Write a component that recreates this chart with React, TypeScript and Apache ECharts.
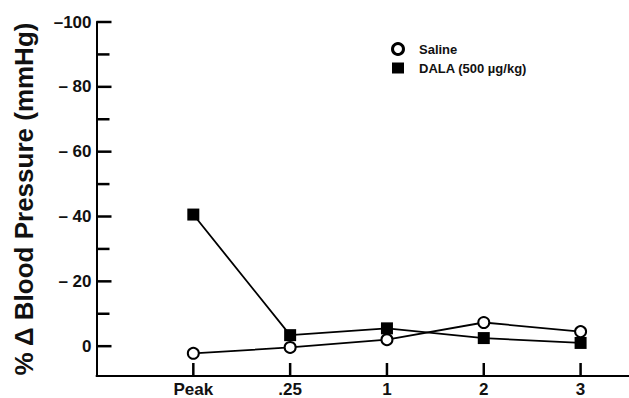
import React, { useEffect, useRef } from "react";
import * as echarts from "echarts";

const timeLabels = ["", "Peak", ".25", "1", "2", "3"];
const xPositions = [1, 2, 3, 4, 5];
const salineValues = [2.2, 0.4, -2, -7.3, -4.5];
const dalaValues = [-40.6, -3.4, -5.5, -2.5, -1];
const yLabelValues = [-100, -80, -60, -40, -20, 0];
const yTickValues = [-100, -90, -80, -70, -60, -50, -40, -30, -20, -10, 0];

const X_MIN = 0;
const X_MAX = 5.5;
const Y_MIN = -100;
const Y_MAX = 9.2;

const FONT = "Liberation Sans, Arial, sans-serif";

export default function App() {
  const ref = useRef<HTMLDivElement>(null);
  useEffect(() => {
    if (!ref.current) return;
    const chart = echarts.init(ref.current, null, { renderer: "svg" });
    chart.setOption({
      animation: false,
      backgroundColor: "#ffffff",
      grid: { left: 96.5, right: 0, top: 22, bottom: 21, containLabel: false },
      legend: {
        orient: "vertical",
        left: 391,
        top: 41,
        padding: 0,
        itemWidth: 12,
        itemHeight: 11,
        itemGap: 3,
        textStyle: {
          fontFamily: FONT,
          fontSize: 13,
          fontWeight: "bold",
          color: "#111",
          lineHeight: 16,
          padding: [0, 0, 0, 10],
        },
        data: [
          {
            name: "Saline",
            icon: "circle",
            itemStyle: { color: "#fff", borderColor: "#000", borderWidth: 3 },
          },
          {
            name: "DALA (500 µg/kg)",
            icon: "rect",
            itemStyle: { color: "#000", borderColor: "#000", borderWidth: 0 },
          },
        ],
      },
      xAxis: {
        type: "value",
        min: X_MIN,
        max: X_MAX,
        interval: 1,
        splitLine: { show: false },
        axisLine: { show: true, onZero: false, lineStyle: { color: "#000", width: 2 } },
        axisTick: { show: false },
        axisLabel: {
          fontFamily: FONT,
          fontSize: 17,
          fontWeight: "bold",
          color: "#111",
          margin: 5,
          customValues: xPositions,
          formatter: (v: number) => timeLabels[Math.round(v)] ?? "",
        },
      },
      yAxis: {
        type: "value",
        inverse: true,
        min: Y_MIN,
        max: Y_MAX,
        interval: 20,
        splitLine: { show: false },
        axisLine: { show: true, onZero: false, lineStyle: { color: "#000", width: 2 } },
        axisTick: { show: false },
        axisLabel: {
          fontFamily: FONT,
          fontSize: 17,
          fontWeight: "bold",
          color: "#111",
          margin: 5,
          customValues: yLabelValues,
          formatter: (v: number) => (v === -100 ? "–100" : v < 0 ? "– " + Math.abs(v) : String(v)),
        },
        name: "% Δ Blood Pressure (mmHg)",
        nameLocation: "middle",
        nameGap: 60,
        nameRotate: 90,
        nameTextStyle: { fontFamily: FONT, fontSize: 26, fontWeight: "bold", color: "#111" },
      },
      series: [
        {
          name: "xTicks",
          type: "custom",
          silent: true,
          clip: false,
          z: 5,
          data: xPositions.map((x) => [x, 0]),
          renderItem: (_params: any, api: any) => {
            const p = api.coord([api.value(0), Y_MAX]);
            return {
              type: "rect",
              shape: { x: p[0] - 1.25, y: p[1] - 13, width: 2.5, height: 13 },
              style: { fill: "#000" },
            };
          },
        },
        {
          name: "yTicks",
          type: "custom",
          silent: true,
          clip: false,
          z: 5,
          data: yTickValues.map((v) => [X_MIN, v]),
          renderItem: (_params: any, api: any) => {
            const p = api.coord([api.value(0), api.value(1)]);
            const len = api.value(1) % 20 === 0 ? 15 : 13;
            return {
              type: "rect",
              shape: { x: p[0], y: p[1] - 1.25, width: len, height: 2.5 },
              style: { fill: "#000" },
            };
          },
        },
        {
          name: "Saline",
          type: "line",
          data: xPositions.map((x, i) => [x, salineValues[i]]),
          symbol: "circle",
          symbolSize: 11,
          itemStyle: { color: "#fff", borderColor: "#000", borderWidth: 2 },
          lineStyle: { color: "#000", width: 1.8 },
          z: 3,
        },
        {
          name: "DALA (500 µg/kg)",
          type: "line",
          data: xPositions.map((x, i) => [x, dalaValues[i]]),
          symbol: "rect",
          symbolSize: 12,
          itemStyle: { color: "#000", borderColor: "#000", borderWidth: 0 },
          lineStyle: { color: "#000", width: 1.8 },
          z: 2,
        },
      ],
    });
    return () => chart.dispose();
  }, []);
  return <div ref={ref} style={{ width: 629, height: 398, position: "absolute", left: 0, top: 0 }} />;
}
